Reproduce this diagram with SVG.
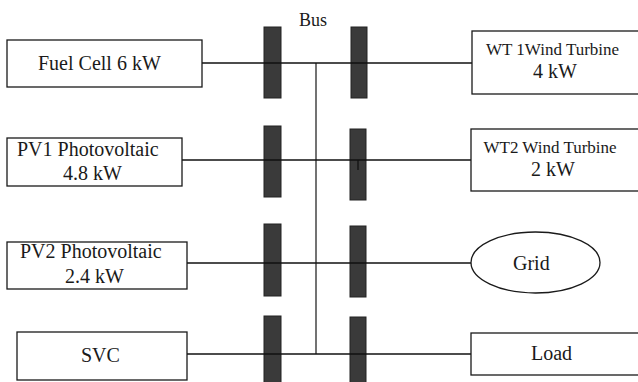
<svg xmlns="http://www.w3.org/2000/svg" width="638" height="382" viewBox="0 0 638 382">
  <style>
    .box { fill: #ffffff; stroke: #1a1a1a; stroke-width: 1.3; }
    .bar { fill: #3a3a3a; stroke: #222222; stroke-width: 1; }
    .wire { stroke: #111111; stroke-width: 1.3; fill: none; }
    .trunk { stroke: #444444; stroke-width: 1.5; fill: none; }
    .lbl { font-family: "Liberation Serif", "Times New Roman", serif; font-size: 20px; fill: #1a1a1a; }
    .sm { font-size: 17px; }
    .bus { font-size: 18px; }
  </style>
  <rect width="638" height="382" fill="#ffffff"/>

  <!-- bus bars -->
  <g id="bus">
    <rect class="bar" x="264" y="27" width="17" height="71"/>
    <rect class="bar" x="264" y="126" width="17" height="71"/>
    <rect class="bar" x="264" y="224" width="17" height="72"/>
    <rect class="bar" x="264" y="316" width="17" height="70"/>
    <rect class="bar" x="351" y="27" width="16" height="71"/>
    <rect class="bar" x="350" y="129" width="16" height="71"/>
    <rect class="bar" x="350" y="226" width="16" height="71"/>
    <rect class="bar" x="350" y="317" width="16" height="70"/>
    <text class="lbl bus" x="299" y="26">Bus</text>
  </g>

  <!-- feeders and trunk -->
  <g id="connectors">
    <line class="trunk" x1="316" y1="63" x2="316" y2="354"/>
    <line class="wire" x1="202" y1="63" x2="472" y2="63"/>
    <line class="wire" x1="182" y1="160" x2="471" y2="160"/>
    <line class="wire" x1="187" y1="263" x2="471" y2="263"/>
    <line class="wire" x1="187" y1="354" x2="471" y2="354"/>
    <line class="wire" x1="358" y1="160" x2="358" y2="170"/>
  </g>

  <g id="fuel-cell">
    <rect class="box" x="7" y="40" width="195" height="47"/>
    <text class="lbl" x="38" y="70">Fuel Cell 6 kW</text>
  </g>

  <g id="pv1">
    <rect class="box" x="7" y="138" width="175" height="48"/>
    <text class="lbl" x="17" y="156">PV1 Photovoltaic</text>
    <text class="lbl" x="63" y="180">4.8 kW</text>
  </g>

  <g id="pv2">
    <rect class="box" x="7" y="242" width="180" height="47"/>
    <text class="lbl" x="20" y="258">PV2 Photovoltaic</text>
    <text class="lbl" x="65" y="283">2.4 kW</text>
  </g>

  <g id="svc">
    <rect class="box" x="17" y="332" width="170" height="48"/>
    <text class="lbl" x="81" y="362">SVC</text>
  </g>

  <g id="wt1">
    <rect class="box" x="472" y="31" width="180" height="63"/>
    <text class="lbl sm" x="486" y="55">WT 1Wind Turbine</text>
    <text class="lbl" x="533" y="78">4 kW</text>
  </g>

  <g id="wt2">
    <rect class="box" x="471" y="129" width="180" height="62"/>
    <text class="lbl sm" x="483.5" y="153">WT2 Wind Turbine</text>
    <text class="lbl" x="531" y="175.5">2 kW</text>
  </g>

  <g id="grid">
    <ellipse class="box" cx="535.5" cy="262.5" rx="64.5" ry="30.5"/>
    <text class="lbl" x="513" y="270">Grid</text>
  </g>

  <g id="load">
    <rect class="box" x="471" y="333" width="180" height="42"/>
    <text class="lbl" x="531" y="360">Load</text>
  </g>
</svg>
